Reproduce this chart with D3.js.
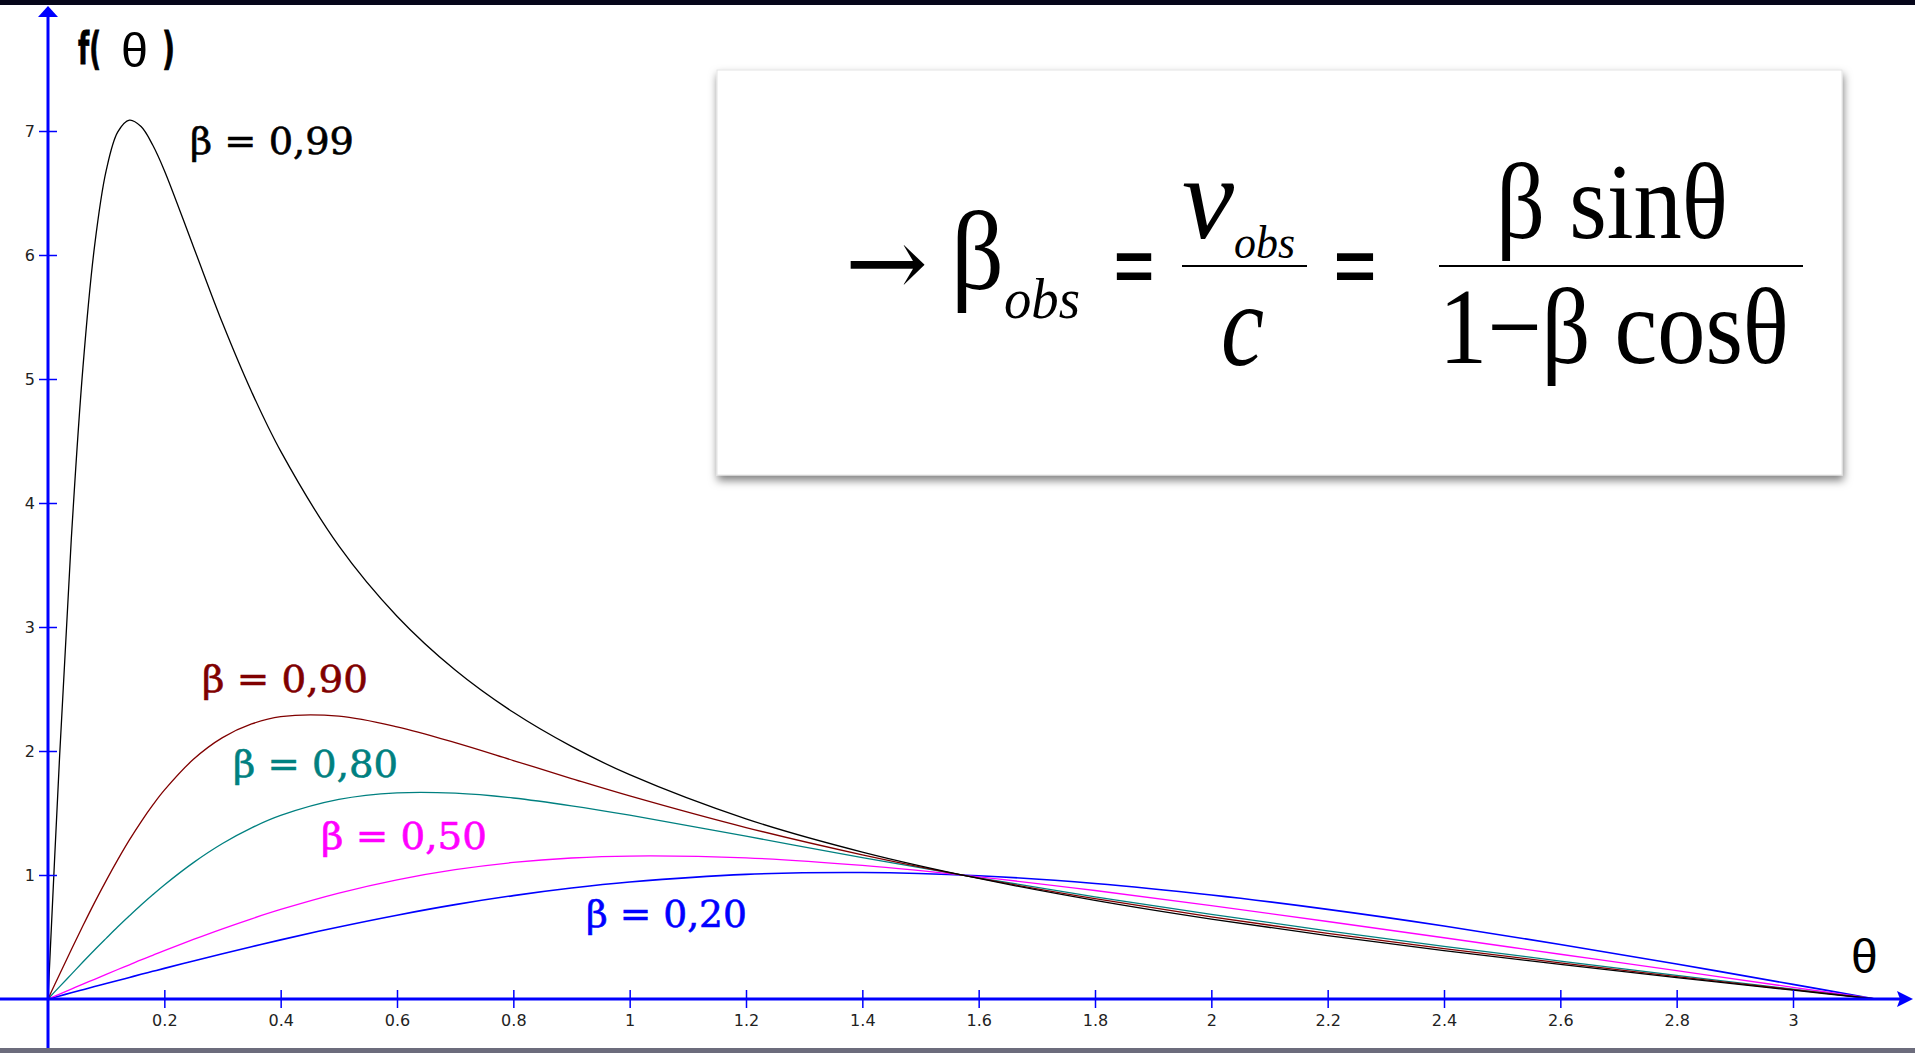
<!DOCTYPE html>
<html>
<head>
<meta charset="utf-8">
<script src="https://cdn.jsdelivr.net/npm/d3@7"></script>
<style>
  html, body { margin: 0; padding: 0; background: #fff; overflow: hidden; }
  svg { display: block; }
</style>
</head>
<body>
<svg id="chart" width="1915" height="1053"></svg>
<script>
// Sample angles θ (radians) and the curves f(θ) = sinθ / (1 − β·cosθ)
const theta = [0, 0.02, 0.04, 0.06, 0.08, 0.1, 0.12, 0.14, 0.16, 0.18, 0.2,
  0.25, 0.3, 0.35, 0.4, 0.5, 0.6, 0.7, 0.8, 0.9, 1.0,
  1.2, 1.4, 1.6, 1.8, 2.0, 2.2, 2.4, 2.6, 2.8, 3.0, 3.1416];

const f020 = [0, 0.025, 0.050, 0.075, 0.100, 0.125, 0.149, 0.174, 0.199, 0.223, 0.247,
  0.307, 0.365, 0.422, 0.477, 0.581, 0.676, 0.761, 0.834, 0.895, 0.943,
  1.005, 1.020, 0.994, 0.932, 0.839, 0.723, 0.589, 0.440, 0.282, 0.118, 0];
const f050 = [0, 0.040, 0.080, 0.120, 0.159, 0.199, 0.238, 0.276, 0.315, 0.352, 0.390,
  0.480, 0.566, 0.647, 0.722, 0.854, 0.961, 1.043, 1.101, 1.137, 1.153,
  1.138, 1.077, 0.985, 0.875, 0.753, 0.625, 0.494, 0.361, 0.228, 0.094, 0];
const f080 = [0, 0.100, 0.199, 0.298, 0.395, 0.489, 0.582, 0.671, 0.758, 0.841, 0.920,
  1.100, 1.254, 1.380, 1.480, 1.609, 1.662, 1.660, 1.621, 1.558, 1.482,
  1.313, 1.141, 0.977, 0.824, 0.682, 0.550, 0.425, 0.306, 0.191, 0.079, 0];
const f090 = [0, 0.200, 0.397, 0.590, 0.777, 0.955, 1.124, 1.283, 1.429, 1.563, 1.684,
  1.933, 2.108, 2.218, 2.277, 2.281, 2.195, 2.067, 1.923, 1.778, 1.638,
  1.383, 1.163, 0.974, 0.809, 0.662, 0.529, 0.406, 0.291, 0.181, 0.075, 0];
const f099 = [0, 1.961, 3.705, 5.090, 6.070, 6.680, 6.993, 7.088, 7.036, 6.887, 6.682,
  6.067, 5.451, 4.897, 4.418, 3.654, 3.087, 2.653, 2.312, 2.037, 1.809,
  1.453, 1.185, 0.972, 0.795, 0.644, 0.511, 0.390, 0.279, 0.173, 0.071, 0];

const seriesLabels = ["β = 0,20", "β = 0,50", "β = 0,80", "β = 0,90", "β = 0,99"];
const seriesColors = ["#0000ff", "#ff00ff", "#008080", "#800000", "#000000"];

const xTickValues = [0.2, 0.4, 0.6, 0.8, 1, 1.2, 1.4, 1.6, 1.8, 2, 2.2, 2.4, 2.6, 2.8, 3];
const xTickLabels = ["0.2", "0.4", "0.6", "0.8", "1", "1.2", "1.4", "1.6", "1.8", "2", "2.2", "2.4", "2.6", "2.8", "3"];
const yTickValues = [1, 2, 3, 4, 5, 6, 7];
const yTickLabels = ["1", "2", "3", "4", "5", "6", "7"];

// ---- layout ----
const W = 1915, H = 1053;
const originX = 48, originY = 999;
const x = d3.scaleLinear().domain([0, 3]).range([originX, 1793]);
const y = d3.scaleLinear().domain([0, 7]).range([originY, 131]);
const axisBlue = "#0000ff";
const labelSpots = [
  { x: 586, y: 927, len: 161 },
  { x: 321, y: 849, len: 166 },
  { x: 233, y: 777, len: 165 },
  { x: 202, y: 692, len: 166 },
  { x: 190, y: 154, len: 164 }
];

const svg = d3.select("#chart");

const defs = svg.append("defs");
const shadow = defs.append("filter").attr("id", "boxShadow")
  .attr("x", "-5%").attr("y", "-5%").attr("width", "110%").attr("height", "115%");
shadow.append("feDropShadow").attr("dx", 1).attr("dy", 5).attr("stdDeviation", 4)
  .attr("flood-color", "#000").attr("flood-opacity", 0.5);

svg.append("rect").attr("width", W).attr("height", H).attr("fill", "#fff");

// ---- curves ----
const line = d3.line()
  .x(d => x(d[0]))
  .y(d => y(d[1]))
  .curve(d3.curveCatmullRom.alpha(0.5));

const series = [f020, f050, f080, f090, f099].map((vals, i) => ({
  label: seriesLabels[i],
  color: seriesColors[i],
  points: theta.map((t, j) => [t, vals[j]])
}));

svg.append("g").selectAll("path").data(series).join("path")
  .attr("d", d => line(d.points))
  .attr("fill", "none")
  .attr("stroke", d => d.color)
  .attr("stroke-width", (d, i) => i === 0 ? 1.6 : 1.3);

// ---- curve labels ----
svg.append("g").selectAll("text").data(series).join("text")
  .attr("x", (d, i) => labelSpots[i].x)
  .attr("y", (d, i) => labelSpots[i].y)
  .attr("textLength", (d, i) => labelSpots[i].len)
  .attr("lengthAdjust", "spacingAndGlyphs")
  .attr("font-family", "'DejaVu Serif', serif")
  .attr("font-size", 37)
  .attr("fill", d => d.color)
  .attr("stroke", d => d.color)
  .attr("stroke-width", 0.6)
  .text(d => d.label);

// ---- axes ----
const xAxis = d3.axisBottom(x)
  .tickValues(xTickValues)
  .tickFormat((d, i) => xTickLabels[i])
  .tickSize(9)
  .tickPadding(7);
const gx = svg.append("g").attr("transform", `translate(0,${originY})`).call(xAxis);
gx.select(".domain").remove();
gx.selectAll(".tick line").attr("y1", -9).attr("stroke", axisBlue).attr("stroke-width", 1.5);
gx.selectAll(".tick text")
  .attr("font-family", "'DejaVu Sans', Verdana, sans-serif")
  .attr("font-size", 16).attr("fill", "#222");

const yAxis = d3.axisLeft(y)
  .tickValues(yTickValues)
  .tickFormat((d, i) => yTickLabels[i])
  .tickSize(9)
  .tickPadding(4);
const gy = svg.append("g").attr("transform", `translate(${originX},0)`).call(yAxis);
gy.select(".domain").remove();
gy.selectAll(".tick line").attr("x1", 9).attr("stroke", axisBlue).attr("stroke-width", 1.5);
gy.selectAll(".tick text")
  .attr("font-family", "'DejaVu Sans', Verdana, sans-serif")
  .attr("font-size", 16).attr("fill", "#222");

// axis lines with arrow heads
svg.append("line").attr("x1", 0).attr("x2", 1900).attr("y1", originY).attr("y2", originY)
  .attr("stroke", axisBlue).attr("stroke-width", 3);
svg.append("line").attr("x1", originX).attr("x2", originX).attr("y1", H).attr("y2", 14)
  .attr("stroke", axisBlue).attr("stroke-width", 3);
svg.append("path")
  .attr("d", `M${originX},6 L${originX - 10},17 L${originX + 10},17 Z`)
  .attr("fill", axisBlue);
svg.append("path")
  .attr("d", `M1913,${originY} L1897,${originY - 8} L1900,${originY} L1897,${originY + 8} Z`)
  .attr("fill", axisBlue);

// axis titles
const yTitle = svg.append("g").attr("font-family", "'DejaVu Sans', Verdana, sans-serif")
  .attr("fill", "#000");
yTitle.append("text").attr("x", 78).attr("y", 64).attr("font-weight", "bold")
  .attr("font-size", 44).attr("stroke", "#000").attr("stroke-width", 0.8)
  .attr("textLength", 23).attr("lengthAdjust", "spacingAndGlyphs").text("f(");
yTitle.append("text").attr("x", 121).attr("y", 67)
  .attr("font-family", "'Liberation Sans', Arial, sans-serif")
  .attr("font-size", 48)
  .attr("textLength", 27).attr("lengthAdjust", "spacingAndGlyphs").text("θ");
yTitle.append("text").attr("x", 162).attr("y", 64).attr("font-weight", "bold")
  .attr("font-size", 44).attr("stroke", "#000").attr("stroke-width", 0.8)
  .attr("textLength", 13).attr("lengthAdjust", "spacingAndGlyphs").text(")");

svg.append("text").attr("x", 1851).attr("y", 973)
  .attr("font-family", "'Liberation Sans', Arial, sans-serif")
  .attr("font-size", 48).attr("fill", "#000").text("θ");

// ---- formula panel ----
const panel = svg.append("g");
panel.append("rect").attr("x", 717).attr("y", 70).attr("width", 1125).attr("height", 405)
  .attr("fill", "#fff").attr("stroke", "#e4e4e4").attr("stroke-width", 1)
  .attr("filter", "url(#boxShadow)");

const serif = "'Liberation Serif', 'Times New Roman', 'DejaVu Serif', serif";
const fx = panel.append("g").attr("fill", "#000");

function put(txt, px, py, size, len, opts = {}) {
  const t = fx.append("text").attr("x", px).attr("y", py)
    .attr("font-family", opts.family || serif)
    .attr("font-size", size)
    .attr("textLength", len).attr("lengthAdjust", "spacingAndGlyphs")
    .text(txt);
  if (opts.italic) t.attr("font-style", "italic");
  if (opts.bold) t.attr("font-weight", "bold");
  return t;
}

put("→", 845, 296, 96, 83, { family: "'DejaVu Serif', serif" });
put("β", 951, 289, 112, 53);
put("obs", 1004, 318, 56, 76, { italic: true });
put("=", 1114, 290, 70, 40, { family: "'Liberation Sans', Arial, sans-serif", bold: true });
put("v", 1182, 238, 118, 52, { italic: true });
put("obs", 1234, 258, 46, 61, { italic: true });
put("c", 1221, 365, 118, 43, { italic: true });
put("=", 1334, 290, 70, 42, { family: "'Liberation Sans', Arial, sans-serif", bold: true });
put("β sinθ", 1496, 238, 108, 232);
put("1−β cosθ", 1439, 363, 108, 350);

fx.append("line").attr("x1", 1182).attr("x2", 1307).attr("y1", 266).attr("y2", 266)
  .attr("stroke", "#000").attr("stroke-width", 2);
fx.append("line").attr("x1", 1439).attr("x2", 1803).attr("y1", 266).attr("y2", 266)
  .attr("stroke", "#000").attr("stroke-width", 2);

// ---- window frame strips ----
svg.append("rect").attr("x", 0).attr("y", 0).attr("width", W).attr("height", 5).attr("fill", "#06061a");
svg.append("rect").attr("x", 0).attr("y", 1048).attr("width", W).attr("height", 5).attr("fill", "#6c6c7c");
</script>
</body>
</html>
